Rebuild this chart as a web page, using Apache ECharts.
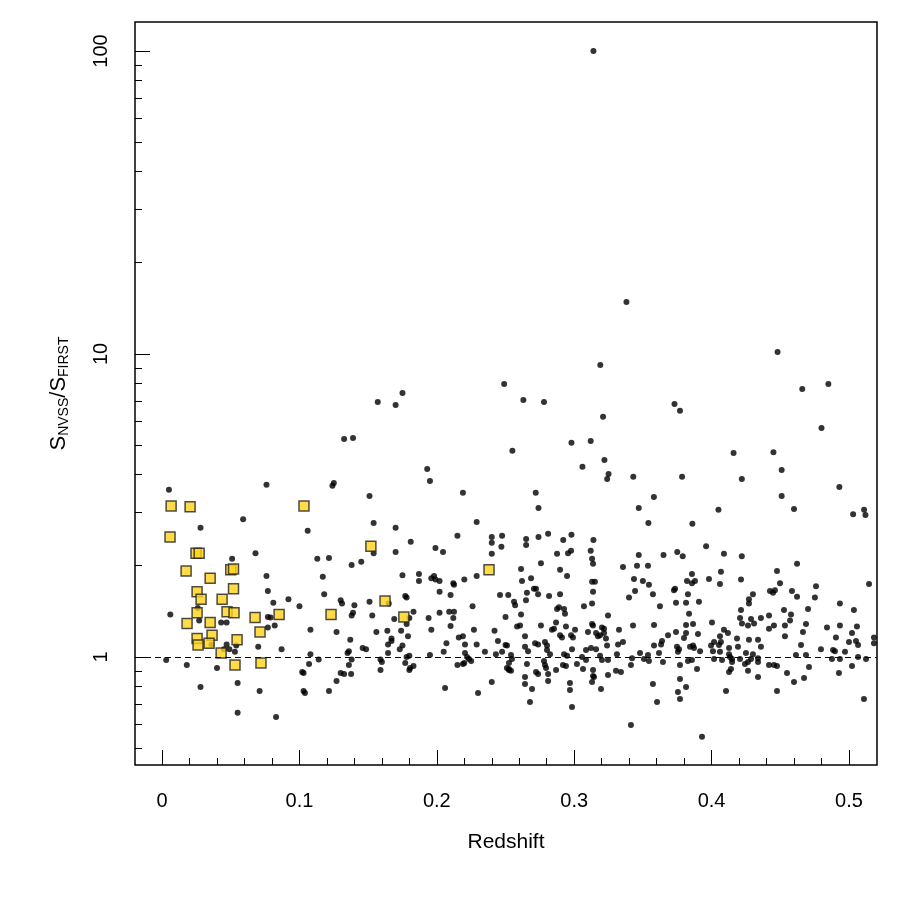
<!DOCTYPE html>
<html>
<head>
<meta charset="utf-8">
<script src="https://cdn.jsdelivr.net/npm/echarts@6/dist/echarts.min.js"></script>
<style>
html, body { margin: 0; background: #fff; }
#main { width: 900px; height: 900px; }
</style>
</head>
<body>
<div id="main"></div>
<script>
// tick positions
var majorX = [0, 0.1, 0.2, 0.3, 0.4, 0.5];
var minorX = [0.02, 0.04, 0.06, 0.08, 0.12, 0.14, 0.16, 0.18, 0.22, 0.24, 0.26, 0.28,
              0.32, 0.34, 0.36, 0.38, 0.42, 0.44, 0.46, 0.48];
var majorY = [1, 10, 100];
var minorY = [0.5, 0.6, 0.7, 0.8, 0.9, 2, 3, 4, 5, 6, 7, 8, 9, 20, 30, 40, 50, 60, 70, 80, 90];

// [redshift, S_NVSS/S_FIRST] - black dots
var dotPoints = [
  [0.005,3.56],[0.076,3.70],[0.059,2.85],[0.028,2.67],[0.106,2.61],[0.068,2.20],[0.051,2.11],[0.113,2.11],
  [0.076,1.85],[0.117,1.84],[0.077,1.65],[0.118,1.61],[0.081,1.51],[0.092,1.55],[0.100,1.47],[0.006,1.38],
  [0.026,1.45],[0.027,1.32],[0.043,1.30],[0.047,1.30],[0.077,1.355],[0.079,1.35],[0.077,1.25],[0.082,1.27],
  [0.108,1.23],[0.036,1.10],[0.047,1.10],[0.045,1.06],[0.049,1.06],[0.054,1.09],[0.053,1.04],[0.070,1.08],
  [0.087,1.06],[0.108,1.02],[0.114,0.98],[0.003,0.977],[0.018,0.941],[0.040,0.92],[0.107,0.948],[0.102,0.892],
  [0.103,0.886],[0.028,0.796],[0.055,0.82],[0.071,0.772],[0.103,0.772],[0.104,0.76],[0.055,0.654],[0.083,0.634],
  [0.249,7.96],[0.175,7.43],[0.157,6.94],[0.170,6.79],[0.1325,5.24],[0.139,5.28],[0.193,4.17],[0.195,3.81],
  [0.125,3.75],[0.124,3.67],[0.219,3.48],[0.151,3.40],[0.154,2.77],[0.170,2.67],[0.229,2.79],[0.215,2.51],
  [0.181,2.40],[0.240,2.49],[0.2475,2.51],[0.240,2.38],[0.247,2.31],[0.154,2.20],[0.170,2.22],[0.199,2.29],
  [0.2045,2.22],[0.240,2.19],[0.1215,2.12],
  [0.319,9.2],[0.263,7.05],[0.278,6.94],[0.373,6.84],[0.377,6.49],[0.321,6.2],[0.312,5.16],[0.298,5.09],
  [0.255,4.79],[0.322,4.47],[0.306,4.24],[0.325,4.02],[0.324,3.87],[0.343,3.93],[0.3785,3.93],[0.272,3.48],
  [0.358,3.37],[0.274,3.10],[0.347,3.10],[0.354,2.77],[0.386,2.75],[0.265,2.45],[0.265,2.34],[0.274,2.49],
  [0.281,2.55],[0.292,2.43],[0.298,2.53],[0.314,2.43],[0.2875,2.19],[0.2955,2.2],[0.2977,2.24],[0.312,2.24],
  [0.313,2.11],[0.347,2.17],[0.365,2.17],[0.375,2.22],[0.379,2.15],
  [0.485,7.96],[0.466,7.66],[0.480,5.70],[0.416,4.71],[0.445,4.74],[0.451,4.14],[0.422,3.87],[0.493,3.64],
  [0.451,3.40],[0.405,3.06],[0.460,3.08],[0.503,2.96],[0.511,3.06],[0.512,2.94],[0.396,2.32],[0.409,2.19],
  [0.422,2.15],
  [0.314,100],[0.338,14.85],[0.448,10.15],
  // 0.12 - 0.25
  [0.138,2.01],[0.145,2.06],[0.175,1.86],[0.187,1.88],[0.187,1.78],[0.196,1.82],[0.198,1.85],[0.199,1.80],
  [0.202,1.78],[0.212,1.75],[0.2125,1.73],[0.220,1.80],[0.229,1.85],[0.130,1.54],[0.131,1.50],[0.140,1.48],
  [0.151,1.52],[0.165,1.50],[0.177,1.59],[0.178,1.57],[0.202,1.64],[0.210,1.60],[0.226,1.47],[0.246,1.60],
  [0.252,1.60],[0.139,1.40],[0.138,1.37],[0.153,1.37],[0.169,1.335],[0.180,1.345],[0.183,1.41],[0.194,1.345],
  [0.202,1.40],[0.209,1.41],[0.2125,1.41],[0.212,1.345],[0.250,1.355],[0.178,1.285],[0.210,1.265],[0.127,1.21],
  [0.156,1.21],[0.164,1.22],[0.174,1.22],[0.196,1.23],[0.227,1.23],[0.242,1.22],[0.179,1.17],[0.216,1.16],
  [0.219,1.17],[0.137,1.14],[0.167,1.15],[0.207,1.11],[0.2205,1.10],[0.229,1.10],[0.2445,1.13],[0.250,1.095],
  [0.146,1.07],[0.1485,1.06],[0.1645,1.10],[0.167,1.13],[0.173,1.06],[0.175,1.09],[0.136,1.045],[0.135,1.03],
  [0.1645,1.03],[0.205,1.04],[0.2205,1.03],[0.235,1.04],[0.243,1.02],[0.2475,1.04],[0.138,0.98],[0.159,0.98],
  [0.160,0.963],[0.178,1.0],[0.180,1.01],[0.195,1.015],[0.222,1.0],[0.2234,0.985],[0.225,0.97],[0.136,0.941],
  [0.177,0.955],[0.215,0.941],[0.219,0.948],[0.220,0.955],[0.159,0.906],[0.180,0.906],[0.1805,0.92],[0.183,0.934],
  [0.251,0.92],[0.2525,0.906],[0.130,0.886],[0.1325,0.879],[0.1376,0.879],[0.127,0.833],[0.240,0.827],[0.1215,0.772],
  [0.206,0.79],[0.230,0.76],
  // 0.25 - 0.385
  [0.3137,2.03],[0.2758,2.04],[0.2613,1.95],[0.3355,1.98],[0.3457,2.0],[0.3537,2.0],[0.2897,1.94],[0.3857,1.88],
  [0.2686,1.82],[0.2948,1.85],[0.3435,1.81],[0.262,1.78],[0.350,1.78],[0.3821,1.78],[0.313,1.77],[0.3151,1.77],
  [0.3544,1.73],[0.2707,1.68],[0.2722,1.68],[0.3726,1.66],[0.3734,1.68],[0.2656,1.63],[0.2649,1.54],[0.2737,1.61],
  [0.2817,1.59],[0.2897,1.61],[0.3137,1.64],[0.3443,1.65],[0.3573,1.61],[0.3828,1.61],[0.3857,1.75],[0.3399,1.57],
  [0.2562,1.52],[0.257,1.48],[0.3741,1.51],[0.3814,1.51],[0.313,1.50],[0.3071,1.47],[0.3624,1.47],[0.2889,1.46],
  [0.2875,1.44],[0.2926,1.44],[0.2933,1.39],[0.2613,1.38],[0.3246,1.37],[0.3836,1.39],[0.2868,1.30],[0.3581,1.275],
  [0.3865,1.285],[0.2584,1.26],[0.2606,1.27],[0.2758,1.27],[0.294,1.26],[0.313,1.285],[0.3137,1.27],[0.3428,1.27],
  [0.3814,1.275],[0.2838,1.23],[0.2853,1.24],[0.3006,1.23],[0.31,1.21],[0.3202,1.25],[0.3217,1.24],[0.3326,1.23],
  [0.3741,1.21],[0.3814,1.20],[0.2642,1.17],[0.2897,1.18],[0.2977,1.18],[0.3159,1.20],[0.3188,1.18],[0.3217,1.20],
  [0.3683,1.18],[0.3799,1.155],[0.2911,1.16],[0.2991,1.16],[0.3173,1.17],[0.3231,1.15],[0.2715,1.11],[0.2737,1.10],
  [0.2787,1.12],[0.3319,1.10],[0.3355,1.12],[0.3639,1.13],[0.3632,1.10],[0.2511,1.09],[0.2642,1.08],[0.2802,1.09],
  [0.3239,1.09],[0.3581,1.09],[0.3748,1.08],[0.3843,1.08],[0.254,1.015],[0.2547,0.985],[0.2664,1.045],[0.2802,1.055],
  [0.2824,1.02],[0.2926,1.02],[0.2948,1.01],[0.2984,1.06],[0.3086,1.055],[0.3122,1.07],[0.3188,1.01],[0.3202,0.977],
  [0.3246,0.977],[0.3159,1.06],[0.3057,1.0],[0.3086,0.977],[0.3311,1.02],[0.3421,0.99],[0.3479,1.03],[0.3508,0.985],
  [0.3537,1.015],[0.3544,0.97],[0.3617,1.03],[0.3646,0.963],[0.3755,1.04],[0.3763,1.06],[0.3828,0.97],[0.2525,0.955],
  [0.254,0.9],[0.2656,0.948],[0.278,0.97],[0.2787,0.941],[0.2795,0.92],[0.2918,0.941],[0.294,0.934],[0.302,0.948],
  [0.3064,0.913],[0.3137,0.906],[0.3413,0.941],[0.377,0.941],[0.2525,0.913],[0.2868,0.906],[0.3137,0.866],[0.3304,0.9],
  [0.334,0.892],[0.3246,0.872],[0.2722,0.892],[0.2737,0.879],[0.281,0.879],[0.2642,0.859],[0.3144,0.859],[0.281,0.833],
  [0.313,0.827],[0.377,0.846],[0.2642,0.814],[0.2969,0.82],[0.3573,0.814],[0.3814,0.796],[0.2693,0.784],[0.2969,0.778],
  [0.3195,0.784],[0.3755,0.766],[0.2678,0.71],[0.3603,0.71],[0.377,0.726],[0.2984,0.684],[0.3413,0.596],
  // 0.385 - 0.52
  [0.4622,2.03],[0.4068,1.91],[0.3981,1.81],[0.4214,1.80],[0.4476,1.92],[0.3879,1.78],[0.4061,1.74],[0.476,1.71],
  [0.5146,1.74],[0.4498,1.75],[0.4425,1.65],[0.4447,1.63],[0.4461,1.66],[0.4585,1.65],[0.4301,1.61],[0.4272,1.55],
  [0.4272,1.50],[0.4622,1.58],[0.4752,1.57],[0.3908,1.52],[0.4934,1.50],[0.5036,1.43],[0.4214,1.43],[0.4527,1.43],
  [0.4702,1.44],[0.4207,1.345],[0.4221,1.29],[0.4287,1.335],[0.4309,1.29],[0.4359,1.345],[0.4418,1.37],[0.4571,1.32],
  [0.4578,1.38],[0.4003,1.30],[0.4265,1.27],[0.4418,1.24],[0.4454,1.27],[0.4534,1.27],[0.4687,1.285],[0.484,1.25],
  [0.4934,1.27],[0.5058,1.26],[0.409,1.23],[0.4119,1.20],[0.4665,1.21],[0.3901,1.19],[0.5022,1.20],[0.4061,1.17],
  [0.4534,1.17],[0.4905,1.16],[0.5182,1.16],[0.4185,1.15],[0.4272,1.14],[0.4338,1.14],[0.5182,1.11],[0.4018,1.12],
  [0.4068,1.12],[0.5,1.12],[0.5051,1.13],[0.3865,1.09],[0.3996,1.09],[0.4054,1.095],[0.4127,1.07],[0.4192,1.08],
  [0.4359,1.08],[0.4651,1.095],[0.4796,1.06],[0.4884,1.055],[0.4898,1.045],[0.4971,1.04],[0.5066,1.095],[0.3872,1.07],
  [0.3916,1.045],[0.401,1.045],[0.4061,1.04],[0.4127,1.02],[0.425,1.03],[0.4134,1.0],[0.4149,0.985],[0.4149,0.963],
  [0.4301,1.02],[0.4338,0.99],[0.4287,0.985],[0.4265,0.963],[0.4243,0.948],[0.4338,0.963],[0.4207,0.985],[0.4018,0.985],
  [0.4076,0.977],[0.3857,0.977],[0.4614,1.015],[0.4687,1.015],[0.4876,0.985],[0.4934,0.985],[0.5066,1.0],[0.5124,0.985],
  [0.4418,0.941],[0.4454,0.941],[0.4476,0.934],[0.4709,0.927],[0.5022,0.934],[0.3894,0.913],[0.4141,0.913],[0.4127,0.892],
  [0.4265,0.9],[0.4549,0.886],[0.4927,0.886],[0.4338,0.859],[0.4673,0.852],[0.460,0.827],[0.4105,0.772],[0.4476,0.772],
  [0.5109,0.726],[0.393,0.545]
];

// [redshift, S_NVSS/S_FIRST] - yellow squares
var boxPoints = [
  [0.0066,3.15],[0.0204,3.13],[0.1033,3.15],[0.0058,2.49],[0.0247,2.2],[0.027,2.2],[0.0175,1.92],[0.035,1.82],
  [0.050,1.94],[0.052,1.95],[0.052,1.68],[0.0255,1.64],[0.0284,1.55],[0.0437,1.55],[0.0255,1.40],[0.0473,1.41],
  [0.0524,1.40],[0.0677,1.35],[0.0852,1.38],[0.0182,1.29],[0.035,1.30],[0.0713,1.21],[0.0364,1.18],[0.0255,1.15],
  [0.0262,1.095],[0.0342,1.11],[0.0546,1.14],[0.043,1.03],[0.0531,0.941],[0.072,0.955],[0.123,1.38],[0.1623,1.53],
  [0.176,1.355],[0.238,1.94],[0.152,2.32]
];

var font = 'Liberation Sans';
var chart = echarts.init(document.getElementById('main'));

var option = {
  animation: false,
  backgroundColor: '#fff',
  grid: {
    left: 135, right: 23, top: 22, bottom: 135,
    show: true, borderColor: '#000', borderWidth: 1.5
  },
  xAxis: [
    {
      type: 'value', min: -0.0197, max: 0.5204, position: 'bottom',
      axisLine: { show: false, onZero: false },
      splitLine: { show: false },
      axisTick: { show: true, inside: true, length: 15, customValues: majorX, lineStyle: { color: '#000', width: 1 } },
      axisLabel: { customValues: majorX, margin: 26, fontSize: 20, color: '#000', fontFamily: font,
        formatter: function (v) { return String(v); } },
      name: 'Redshift', nameLocation: 'middle', nameGap: 67,
      nameTextStyle: { fontSize: 21, color: '#000', fontFamily: font }
    },
    {
      type: 'value', min: -0.0197, max: 0.5204, position: 'bottom',
      axisLine: { show: false, onZero: false }, splitLine: { show: false }, axisLabel: { show: false },
      axisTick: { show: true, inside: true, length: 7, customValues: minorX, lineStyle: { color: '#000', width: 1 } }
    }
  ],
  yAxis: [
    {
      type: 'log', min: 0.44, max: 124.6, position: 'left',
      axisLine: { show: false, onZero: false },
      splitLine: { show: false },
      axisTick: { show: true, inside: true, length: 15, customValues: majorY, lineStyle: { color: '#000', width: 1 } },
      axisLabel: { customValues: majorY, rotate: 90, margin: 24, fontSize: 20, color: '#000', fontFamily: font,
        formatter: function (v) { return String(Math.round(v)); } },
      name: '{s|S}{sub|NVSS}{s|/S}{sub|FIRST}', nameLocation: 'middle', nameGap: 64, nameRotate: 90,
      nameTextStyle: {
        rich: {
          s: { fontSize: 22, lineHeight: 25, color: '#000', fontFamily: font },
          sub: { fontSize: 14, lineHeight: 14, verticalAlign: 'bottom', color: '#000', fontFamily: font }
        }
      }
    },
    {
      type: 'log', min: 0.44, max: 124.6, position: 'left',
      axisLine: { show: false, onZero: false }, splitLine: { show: false }, axisLabel: { show: false },
      axisTick: { show: true, inside: true, length: 7, customValues: minorY, lineStyle: { color: '#000', width: 1 } }
    }
  ],
  series: [
    {
      type: 'scatter', xAxisIndex: 0, yAxisIndex: 0,
      data: dotPoints, symbol: 'circle', symbolSize: 6,
      itemStyle: { color: '#000' },
      markLine: {
        silent: true, symbol: 'none', label: { show: false },
        lineStyle: { type: [6, 4], color: '#000', width: 1 },
        data: [{ yAxis: 1 }]
      }
    },
    {
      type: 'scatter', xAxisIndex: 0, yAxisIndex: 0,
      data: boxPoints, symbol: 'rect', symbolSize: 10,
      itemStyle: { color: '#FFD21A', borderColor: '#222', borderWidth: 1.5 }
    }
  ]
};

chart.setOption(option);
</script>
</body>
</html>
